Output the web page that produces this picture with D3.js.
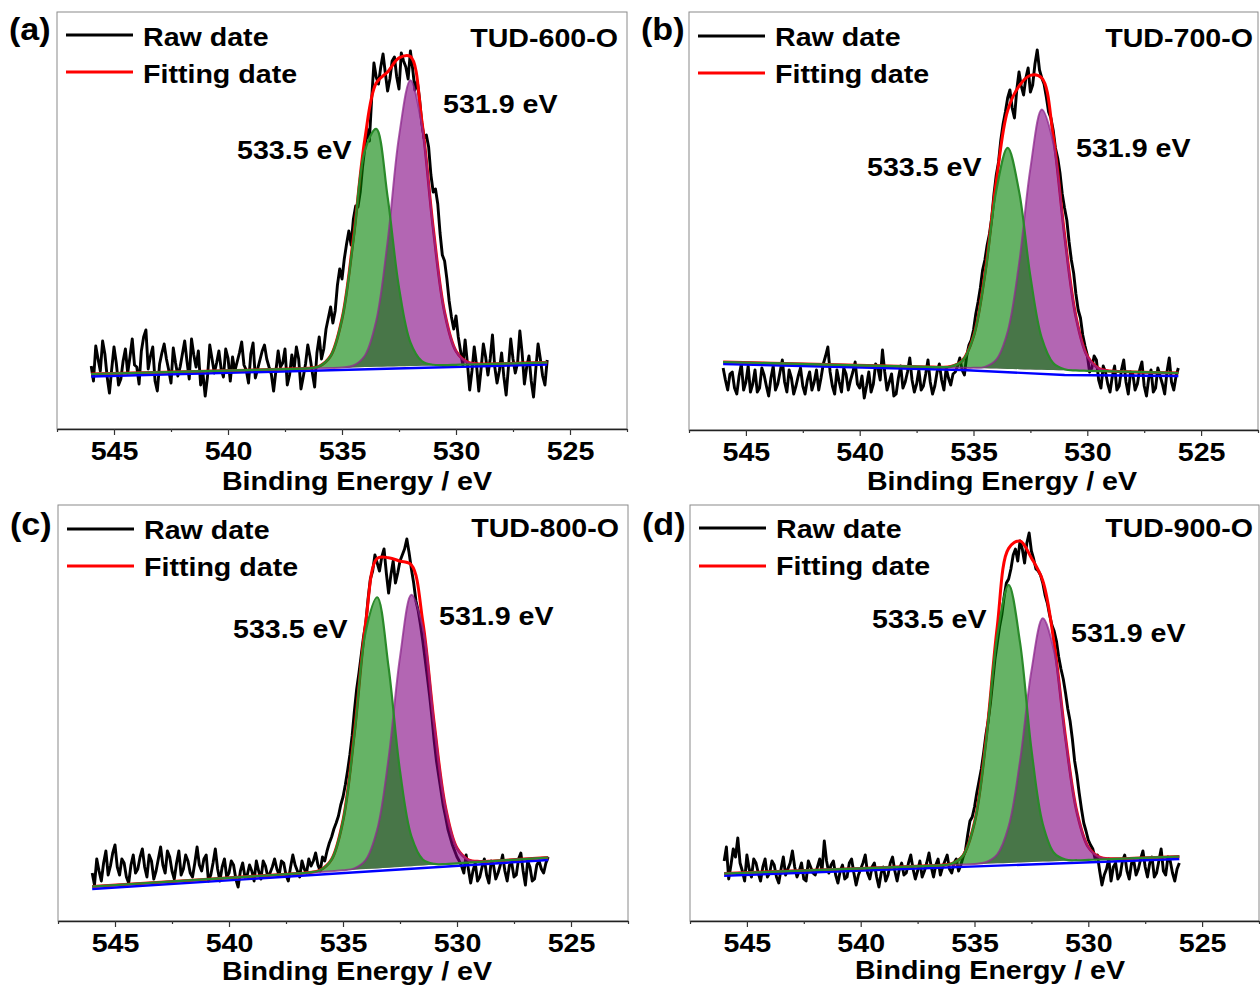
<!DOCTYPE html>
<html>
<head>
<meta charset="utf-8">
<script src="https://cdn.jsdelivr.net/npm/d3@7/dist/d3.min.js"></script>
<style>
  body { margin: 0; background: #fff; }
  text { font-family: "Liberation Sans", Arial, sans-serif; font-weight: bold; fill: #000; }
</style>
</head>
<body>
<svg id="chart" width="1260" height="988"></svg>
<script>
// binding energy of the raw spectra, 546 -> 526 eV every 0.1 eV
var energy = d3.range(201).map(function(i) { return +(546 - i * 0.1).toFixed(1); });

// raw counts (a.u.)
var rawA = [63,48, 83,70, 58,88, 75,52, 36,60, 82,66, 44,50, 68,80, 56,72, 90,64,
  62,45, 78,92, 99,60, 73,82, 48,38, 65,76, 85,70, 59,46, 81,66, 53,62,
  75,88, 68,50, 90,74, 62,78, 44,56, 33,52, 84,70, 56,66, 78,60, 52,80,
  71,48, 72,58, 67,76, 87,64, 59,46, 75,86, 51,60, 69,78, 84,70, 62,55,
  38,58, 78,62, 66,80, 44,54, 74,60, 82,70, 40,52, 65,84, 72,56, 42,76,
  92,70, 80,100, 111,122, 106,118, 144,160, 150,170, 185,198, 184,210, 223,222, 237,262,
  281,300, 288,330, 366,352, 345,362, 375,356, 338,350, 368,372, 352,340, 376,368, 362,350,
  378,360, 339,348, 330,306, 291,294, 282,254, 237,240, 225,196, 174,168, 150,128, 112,100,
  113,92, 78,64, 89,66, 39,58, 82,64, 38,60, 85,72, 54,70, 94,62, 46,58,
  76,52, 34,62, 90,70, 56,66, 98,76, 45,62, 73,48, 32,60, 85,70, 53,44,
  69];
var rawB = [62,50, 40,56, 58,42, 36,54, 66,40, 48,64, 38,46, 60,38, 42,62, 55,44,
  34,52, 64,40, 46,58, 70,48, 38,60, 52,36, 44,54, 62,44, 36,50, 58,40,
  48,60, 40,52, 66,74, 83,58, 44,36, 60,48, 38,62, 56,40, 50,58, 68,46,
  42,54, 32,44, 58,38, 46,66, 62,50, 80,58, 40,48, 56,34, 36,52, 64,42,
  48,58, 72,50, 38,46, 60,40, 44,56, 70,48, 36,44, 58,66, 50,40, 62,52,
  45,56, 58,64, 72,60, 55,74, 85,90, 100,116, 128,142, 160,170, 185,196, 212,236,
  255,268, 290,306, 318,332, 340,322, 312,340, 358,344, 335,352, 362,338, 345,366, 380,360,
  352,346, 333,318, 312,300, 282,272, 257,236, 222,210, 188,170, 157,136, 120,112, 95,84,
  75,58, 62,74, 70,50, 42,64, 58,46, 38,54, 64,40, 44,60, 70,48, 36,58,
  56,40, 46,60, 68,44, 34,52, 60,38, 42,62, 54,46, 36,58, 72,48, 40,54,
  62];
var rawC = [48,36, 62,50, 40,58, 70,46, 55,68, 76,54, 46,62, 58,44, 38,56, 66,48,
  52,64, 72,54, 44,66, 60,42, 50,62, 74,56, 48,70, 64,50, 42,58, 70,46,
  52,66, 60,48, 44,58, 74,56, 50,62, 66,40, 46,58, 72,52, 40,54, 62,44,
  48,60, 56,42, 34,50, 58,44, 46,56, 50,40, 60,50, 42,60, 55,44, 48,54,
  62,52, 46,60, 58,46, 40,54, 66,56, 50,44, 60,52, 48,62, 55,60, 68,56,
  50,64, 60,70, 78,84, 92,98, 105,116, 124,136, 150,166, 185,210, 232,248, 266,284,
  298,322, 342,350, 366,358, 350,364, 372,348, 328,346, 360,338, 348,360, 366,372, 382,368,
  352,338, 320,310, 296,280, 262,244, 225,204, 180,160, 145,130, 115,104, 92,84, 76,70,
  64,60, 55,48, 66,52, 38,50, 58,40, 44,54, 62,46, 38,60, 56,42, 48,56,
  66,50, 40,56, 58,44, 46,62, 68,50, 36,60, 54,40, 42,56, 60,52, 48,58,
  64];
var rawD = [60,74, 42,56, 72,64, 83,58, 50,40, 66,52, 44,62, 58,48, 40,54, 62,44,
  48,60, 56,44, 38,52, 64,46, 52,58, 70,54, 44,50, 58,42, 40,60, 54,48,
  46,54, 62,50, 80,60, 48,56, 60,46, 38,50, 56,42, 44,58, 62,48, 36,46,
  52,58, 66,48, 42,54, 58,44, 34,48, 54,40, 46,58, 64,50, 40,52, 58,46,
  48,58, 66,52, 42,50, 60,44, 50,58, 68,54, 44,56, 62,46, 54,60, 66,52,
  48,58, 62,50, 56,64, 70,86, 100,104, 114,128, 140,152, 168,186, 200,218, 240,262,
  278,294, 306,324, 338,342, 352,366, 372,360, 380,372, 358,378, 388,370, 362,352, 350,346,
  338,326, 318,306, 296,290, 280,264, 252,242, 228,212, 200,182, 160,146, 128,112, 98,90,
  81,76, 72,62, 66,50, 36,46, 52,62, 40,54, 58,42, 46,60, 66,50, 42,58,
  60,46, 52,62, 70,54, 44,58, 64,44, 48,60, 72,50, 46,64, 60,48, 40,52,
  58];

// fitted components (height above the fit background) on their own energy grid
var compE = [546, 537, 536.5, 536, 535.5, 535, 534.5, 534, 533.5, 533, 532.5,
  532, 531.5, 531, 530.5, 530, 529.5, 529, 528.5, 528, 526];
var greenA = [0, 0, 0.2, 2.0, 12.1, 48.8, 127.5, 216.3, 237.9, 169.7, 78.6, 23.6, 4.6, 0.6, 0, 0, 0, 0, 0, 0, 0];
var purpleA = [0, 0, 0, 0, 0, 0.2, 1.9, 11.4, 45.9, 124.9, 229.7, 285.8, 240.7, 137.1, 52.9, 13.8, 2.4, 0.3, 0, 0, 0];
var greenB = [0, 0, 0.1, 1.0, 6.9, 31.5, 93, 178, 221, 178, 93, 31.5, 6.9, 1.0, 0.1, 0, 0, 0, 0, 0, 0];
var purpleB = [0, 0, 0, 0, 0, 0.2, 1.4, 8.9, 37.2, 105.1, 201.1, 260.2, 227.8, 135, 54.1, 14.7, 2.7, 0.3, 0, 0, 0];
var greenC = [0, 0, 0.2, 1.9, 12.0, 50.1, 135.7, 238.2, 271.1, 200.2, 96.0, 29.8, 6.0, 0.8, 0, 0, 0, 0, 0, 0, 0];
var purpleC = [0, 0, 0, 0, 0, 0.2, 1.5, 9.3, 38.8, 109.7, 209.8, 271.4, 237.7, 140.8, 56.5, 15.3, 2.8, 0.4, 0, 0, 0];
var greenD = [0, 0, 0.1, 1.4, 9.3, 41.7, 121.1, 227.7, 278, 220, 113, 37.6, 8.1, 1.1, 0.1, 0, 0, 0, 0, 0, 0];
var purpleD = [0, 0, 0, 0, 0, 0.2, 1.5, 8.9, 36.5, 101.4, 191, 243.3, 209.7, 122.3, 48.3, 12.9, 2.3, 0.3, 0, 0, 0];

// backgrounds: fit background at 546 / 526 eV, blue baseline points
var compBaseA = [55, 66.5], compBaseB = [68, 57], compBaseC = [34.5, 63.5], compBaseD = [47.5, 64.5];
var blueEA = [546, 526], blueA = [52.5, 64.5];
var blueEB = [546, 535.5, 531, 526], blueB = [66, 60, 55, 54];
var blueEC = [546, 526], blueC = [32, 61];
var blueED = [546, 526], blueD = [45.3, 62];

var xTicks = [545, 540, 535, 530, 525];
var xMinor = [547.5, 542.5, 537.5, 532.5, 527.5, 522.5];
var panelTags = ["(a)", "(b)", "(c)", "(d)"];
var sampleNames = ["TUD-600-O", "TUD-700-O", "TUD-800-O", "TUD-900-O"];
var peakNames = ["533.5 eV", "531.9 eV"];
var legendNames = ["Raw date", "Fitting date"];
var xTitle = "Binding Energy / eV";

var panels = [
  {raw: rawA, green: greenA, purple: purpleA, comp: compBaseA, blueE: blueEA, blue: blueA},
  {raw: rawB, green: greenB, purple: purpleB, comp: compBaseB, blueE: blueEB, blue: blueB},
  {raw: rawC, green: greenC, purple: purpleC, comp: compBaseC, blueE: blueEC, blue: blueC},
  {raw: rawD, green: greenD, purple: purpleD, comp: compBaseD, blueE: blueED, blue: blueD}
];

// frame boxes and text spots in page pixels
var layout = [
  {L: 57, T: 12, R: 627, B: 429, titleX: 357, titleY: 490, tagY: 40, legY: [35, 72], textY: [46, 83], nameX: 618, nameY: 47, lab: [[237, 159], [443, 113]]},
  {L: 689, T: 12, R: 1258, B: 430, titleX: 1002, titleY: 490, tagY: 40, legY: [36, 73], textY: [46, 83], nameX: 1253, nameY: 47, lab: [[867, 176], [1076, 157]]},
  {L: 58, T: 505, R: 628, B: 921, titleX: 357, titleY: 980, tagY: 535, legY: [529, 566], textY: [539, 576], nameX: 619, nameY: 537, lab: [[233, 638], [439, 625]]},
  {L: 690, T: 505, R: 1259, B: 921, titleX: 990, titleY: 979, tagY: 535, legY: [528, 566], textY: [538, 575], nameX: 1253, nameY: 537, lab: [[872, 628], [1071, 642]]}
];

var svg = d3.select("#chart");

function addText(g, str, x, y, size, anchor) {
  return g.append("text")
    .attr("transform", "translate(" + x + "," + y + ") scale(1.1,1)")
    .attr("text-anchor", anchor || "start")
    .style("font-size", size + "px")
    .text(str);
}

panels.forEach(function(p, k) {
  var lay = layout[k];
  var g = svg.append("g");

  var x = d3.scaleLinear().domain([547.5, 522.5]).range([lay.L, lay.R]);
  var y = d3.scaleLinear().domain([0, lay.B - lay.T]).range([lay.B, lay.T]);
  var compAt = d3.scaleLinear().domain([546, 526]).range(p.comp);

  // frame
  g.append("rect")
    .attr("x", lay.L).attr("y", lay.T)
    .attr("width", lay.R - lay.L).attr("height", lay.B - lay.T)
    .attr("fill", "none").attr("stroke", "#8a8a8a").attr("stroke-width", 1);

  // x axis, major + minor ticks
  var ax = g.append("g")
    .attr("transform", "translate(0," + lay.B + ")")
    .call(d3.axisBottom(x).tickValues(xTicks).tickSize(6).tickSizeOuter(0).tickPadding(6.5));
  ax.attr("font-family", null).attr("font-size", null);
  ax.select(".domain").attr("stroke", "#222").attr("stroke-width", 1.4);
  ax.selectAll(".tick line").attr("stroke", "#333").attr("stroke-width", 1.2);
  ax.selectAll(".tick text").attr("transform", "scale(1.1,1)").style("font-size", "26px");

  var mn = g.append("g")
    .attr("transform", "translate(0," + lay.B + ")")
    .call(d3.axisBottom(x).tickValues(xMinor).tickSize(3).tickSizeOuter(0).tickFormat(""));
  mn.select(".domain").remove();
  mn.selectAll(".tick line").attr("stroke", "#333").attr("stroke-width", 1.2);

  addText(g, xTitle, lay.titleX, lay.titleY, 26, "middle");

  // raw spectrum
  var rawLine = d3.line()
    .x(function(d, i) { return x(energy[i]); })
    .y(function(d) { return y(d); });
  g.append("path").datum(p.raw)
    .attr("d", rawLine)
    .attr("fill", "none").attr("stroke", "#000").attr("stroke-width", 2.9)
    .attr("stroke-linejoin", "round");

  var fitData = compE.map(function(e, i) {
    return {e: e, b: compAt(e), g: p.green[i], p: p.purple[i]};
  });
  var smooth = d3.curveCatmullRom.alpha(0.5);

  // envelope
  var fitLine = d3.line().curve(smooth)
    .x(function(d) { return x(d.e); })
    .y(function(d) { return y(d.b + d.g + d.p); });
  g.append("path").datum(fitData)
    .attr("d", fitLine)
    .attr("fill", "none").attr("stroke", "#ff0000").attr("stroke-width", 3);

  // blue baseline
  var blueLine = d3.line()
    .x(function(d, i) { return x(p.blueE[i]); })
    .y(function(d) { return y(d); });
  g.append("path").datum(p.blue)
    .attr("d", blueLine)
    .attr("fill", "none").attr("stroke", "#0000ff").attr("stroke-width", 2.4);

  // component areas
  function compArea(key) {
    return d3.area().curve(smooth)
      .x(function(d) { return x(d.e); })
      .y0(function(d) { return y(d.b); })
      .y1(function(d) { return y(d.b + d[key]); });
  }
  function compLine(key) {
    return d3.line().curve(smooth)
      .x(function(d) { return x(d.e); })
      .y(function(d) { return y(d.b + d[key]); });
  }
  g.append("path").datum(fitData).attr("d", compArea("p"))
    .attr("fill", "#800080").attr("fill-opacity", 0.6);
  g.append("path").datum(fitData).attr("d", compArea("g"))
    .attr("fill", "#008000").attr("fill-opacity", 0.6);
  g.append("path").datum(fitData).attr("d", compLine("p"))
    .attr("fill", "none").attr("stroke", "#8e2a8e").attr("stroke-width", 2).attr("stroke-opacity", 0.75);
  g.append("path").datum(fitData).attr("d", compLine("g"))
    .attr("fill", "none").attr("stroke", "#2a8a2a").attr("stroke-width", 2.2);

  // labels
  addText(g, panelTags[k], lay.L - 48, lay.tagY, 31, "start");
  addText(g, sampleNames[k], lay.nameX, lay.nameY, 26, "end");
  addText(g, peakNames[0], lay.lab[0][0], lay.lab[0][1], 26, "start");
  addText(g, peakNames[1], lay.lab[1][0], lay.lab[1][1], 26, "start");

  // legend
  var legColors = ["#000", "#ff0000"];
  legendNames.forEach(function(name, j) {
    g.append("line")
      .attr("x1", lay.L + 9).attr("x2", lay.L + 76)
      .attr("y1", lay.legY[j]).attr("y2", lay.legY[j])
      .attr("stroke", legColors[j]).attr("stroke-width", 3);
    addText(g, name, lay.L + 86, lay.textY[j], 26, "start");
  });
});
</script>
</body>
</html>
